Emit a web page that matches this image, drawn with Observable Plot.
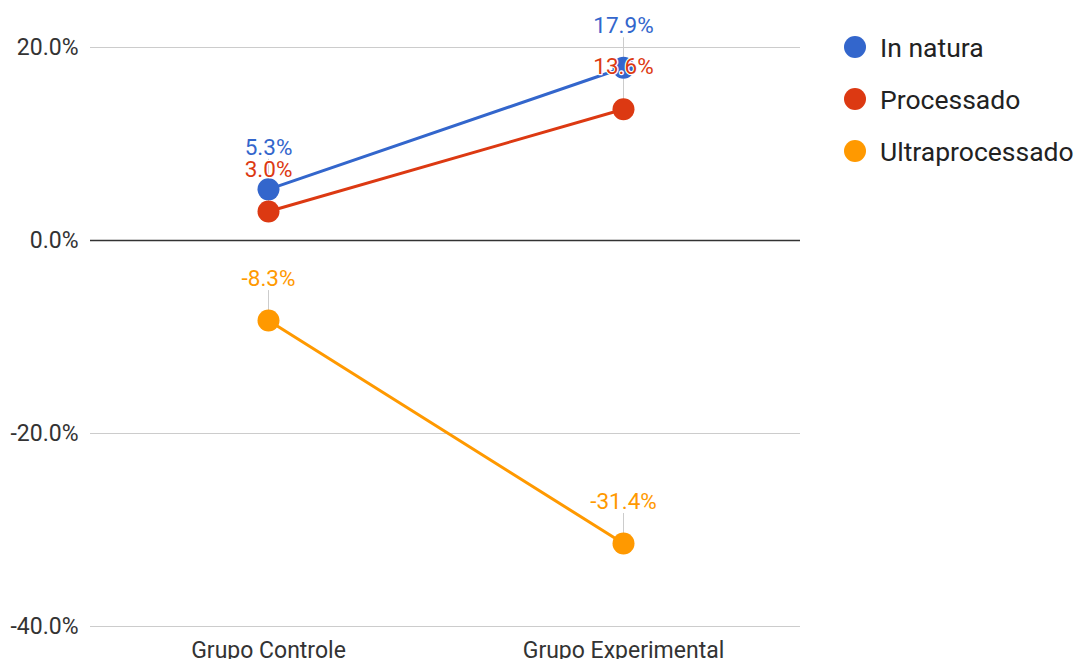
<!DOCTYPE html>
<html>
<head>
<meta charset="utf-8">
<script src="https://cdn.jsdelivr.net/npm/d3@7"></script>
<script src="https://cdn.jsdelivr.net/npm/@observablehq/plot@0.6"></script>
<style>
  html, body { margin: 0; padding: 0; background: #fff; }
  #wrap { position: relative; width: 1076px; height: 659px; overflow: hidden; font-family: Roboto, sans-serif; }
  #legend { position: absolute; left: 844px; top: 21px; }
  .item { display: flex; align-items: center; height: 52px; }
  .sw { width: 22px; height: 22px; border-radius: 50%; margin-right: 14px; flex: none; }
  .lbl { font-size: 26.5px; color: #222; white-space: nowrap; }
</style>
</head>
<body>
<div id="wrap"></div>
<script>
const groups = ["Grupo Controle", "Grupo Experimental"];
const seriesNames = ["In natura", "Processado", "Ultraprocessado"];
const seriesColors = ["#3366cc", "#dc3912", "#ff9900"];
const inNatura = [5.3, 17.9];
const processado = [3.0, 13.6];
const ultraprocessado = [-8.3, -31.4];
const yTicks = [-40, -20, 0, 20];

const seriesValues = [inNatura, processado, ultraprocessado];
const data = [];
seriesNames.forEach((s, si) => groups.forEach((g, gi) => data.push({series: s, group: g, value: seriesValues[si][gi]})));

const fmt = v => v.toFixed(1) + "%";

const chart = Plot.plot({
  width: 1076,
  height: 659,
  marginLeft: 90,
  marginRight: 276,
  marginTop: 47,
  marginBottom: 33,
  style: {fontFamily: "Roboto, sans-serif", fontSize: "23px", color: "#333", background: "#fff"},
  x: {type: "point", domain: groups, padding: 0.5, label: null, tickSize: 0, tickPadding: 15},
  y: {domain: [-40, 20], ticks: yTicks, tickFormat: fmt, label: null, tickSize: 0, tickPadding: 12},
  color: {domain: seriesNames, range: seriesColors},
  marks: [
    Plot.ruleY(yTicks.filter(d => d !== 0), {stroke: "#cccccc", strokeWidth: 1.2}),
    Plot.ruleY([0], {stroke: "#333333", strokeWidth: 1.3}),
    Plot.ruleX(data, {x: "group", y1: "value", y2: "value", insetTop: -30, stroke: "#cccccc", strokeWidth: 1}),
    Plot.line(data, {x: "group", y: "value", z: "series", stroke: "series", strokeWidth: 3}),
    Plot.dot(data, {x: "group", y: "value", fill: "series", r: 11}),
    Plot.text(data, {x: "group", y: "value", text: d => fmt(d.value), fill: "series", dy: -42, fontSize: 22.5, stroke: "white", strokeWidth: 2.5})
  ]
});

const wrap = document.getElementById("wrap");
wrap.appendChild(chart);
const legend = document.createElement("div");
legend.id = "legend";
seriesNames.forEach((s, i) => {
  const it = document.createElement("div");
  it.className = "item";
  const sw = document.createElement("div");
  sw.className = "sw";
  sw.style.background = seriesColors[i];
  const lb = document.createElement("span");
  lb.className = "lbl";
  lb.textContent = s;
  it.appendChild(sw); it.appendChild(lb);
  legend.appendChild(it);
});
wrap.appendChild(legend);
</script>
</body>
</html>
